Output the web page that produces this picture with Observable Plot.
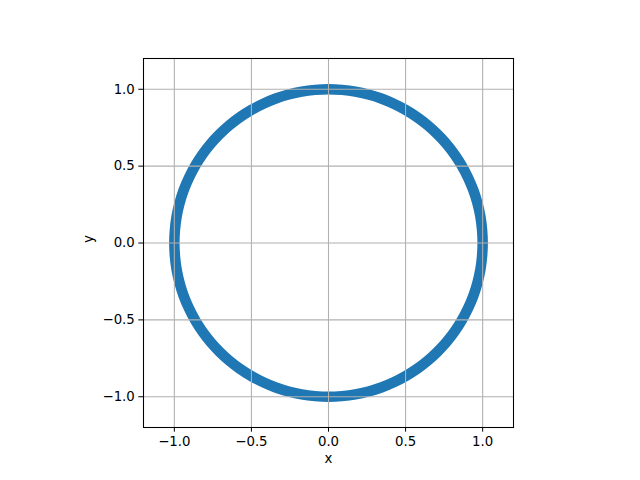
<!DOCTYPE html>
<html>
<head>
<meta charset="utf-8">
<script src="https://cdn.jsdelivr.net/npm/d3@7"></script>
<script src="https://cdn.jsdelivr.net/npm/@observablehq/plot@0.6"></script>
<style>
  html, body { margin: 0; padding: 0; background: #fff; }
  svg { display: block; }
</style>
</head>
<body>
<div id="chart"></div>
<script>
// Points read along the ring (every 5 degrees), centred on radius ~1.0
const ringX = [1.000, 0.996, 0.985, 0.966, 0.940, 0.906, 0.866, 0.819, 0.766, 0.707, 0.643, 0.574, 0.500, 0.423, 0.342, 0.259, 0.174, 0.087,
  0.000, -0.087, -0.174, -0.259, -0.342, -0.423, -0.500, -0.574, -0.643, -0.707, -0.766, -0.819, -0.866, -0.906, -0.940, -0.966, -0.985, -0.996,
  -1.000, -0.996, -0.985, -0.966, -0.940, -0.906, -0.866, -0.819, -0.766, -0.707, -0.643, -0.574, -0.500, -0.423, -0.342, -0.259, -0.174, -0.087,
  0.000, 0.087, 0.174, 0.259, 0.342, 0.423, 0.500, 0.574, 0.643, 0.707, 0.766, 0.819, 0.866, 0.906, 0.940, 0.966, 0.985, 0.996];
const ringY = [0.000, 0.087, 0.174, 0.259, 0.342, 0.423, 0.500, 0.574, 0.643, 0.707, 0.766, 0.819, 0.866, 0.906, 0.940, 0.966, 0.985, 0.996,
  1.000, 0.996, 0.985, 0.966, 0.940, 0.906, 0.866, 0.819, 0.766, 0.707, 0.643, 0.574, 0.500, 0.423, 0.342, 0.259, 0.174, 0.087,
  0.000, -0.087, -0.174, -0.259, -0.342, -0.423, -0.500, -0.574, -0.643, -0.707, -0.766, -0.819, -0.866, -0.906, -0.940, -0.966, -0.985, -0.996,
  -1.000, -0.996, -0.985, -0.966, -0.940, -0.906, -0.866, -0.819, -0.766, -0.707, -0.643, -0.574, -0.500, -0.423, -0.342, -0.259, -0.174, -0.087];
const xTicks = [-1.0, -0.5, 0.0, 0.5, 1.0];
const yTicks = [-1.0, -0.5, 0.0, 0.5, 1.0];
const xLabel = "x";
const yLabel = "y";

const ring = ringX.map((x, i) => ({x, y: ringY[i]}));
const fmt = d => d.toFixed(1).replace("-", "\u2212");

const chart = Plot.plot({
  width: 640,
  height: 480,
  marginLeft: 143,
  marginRight: 127,
  marginTop: 58,
  marginBottom: 53,
  style: {fontFamily: "DejaVu Sans", fontSize: "13.3px", color: "#000", background: "#fff"},
  x: {domain: [-1.2, 1.2]},
  y: {domain: [-1.2, 1.2]},
  marks: [
    Plot.line(ring, {x: "x", y: "y", curve: "catmull-rom-closed", stroke: "#1f77b4", strokeWidth: 10.5}),
    Plot.gridX(xTicks, {stroke: "#b0b0b0", strokeOpacity: 1, strokeWidth: 1.07}),
    Plot.gridY(yTicks, {stroke: "#b0b0b0", strokeOpacity: 1, strokeWidth: 1.07}),
    Plot.frame({stroke: "#000", strokeWidth: 1.07}),
    Plot.axisX(xTicks, {anchor: "bottom", tickSize: 4.7, tickPadding: 4, tickFormat: fmt, label: null, stroke: "#000", fill: "#000", fontSize: 13.3}),
    Plot.axisY(yTicks, {anchor: "left", tickSize: 4.7, tickPadding: 4, tickFormat: fmt, label: null, stroke: "#000", fill: "#000", fontSize: 13.3}),
    Plot.text([xLabel], {frameAnchor: "bottom", text: d => d, dy: 35, fill: "#000", fontSize: 13.3}),
    Plot.text([yLabel], {frameAnchor: "left", text: d => d, dx: -55, rotate: -90, fill: "#000", fontSize: 13.3})
  ]
});
document.getElementById("chart").appendChild(chart);
</script>
</body>
</html>
